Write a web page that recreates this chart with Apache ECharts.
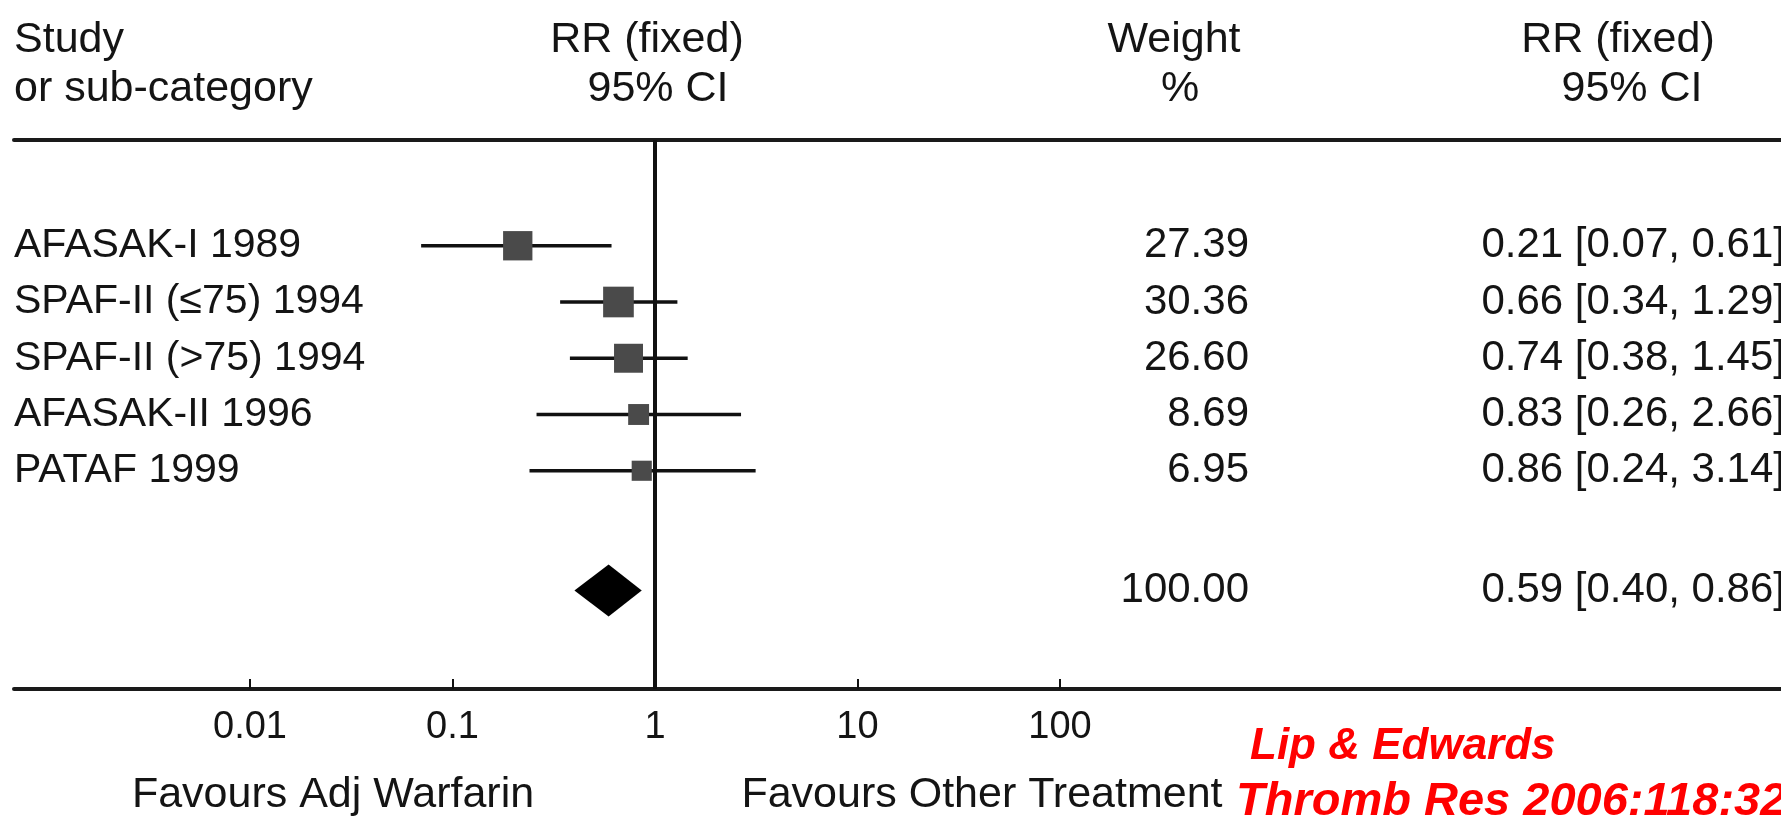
<!DOCTYPE html>
<html>
<head>
<meta charset="utf-8">
<title>RR (fixed) forest plot</title>
<script src="https://cdn.jsdelivr.net/npm/echarts@6/dist/echarts.min.js"></script>
<style>
  html, body { margin: 0; padding: 0; background: #fff; }
  #chart { width: 1781px; height: 823px; }
</style>
</head>
<body>
<div id="chart"></div>
<script>
// 研究名称
var studies = ['AFASAK-I 1989', 'SPAF-II (≤75) 1994', 'SPAF-II (>75) 1994', 'AFASAK-II 1996', 'PATAF 1999'];
// RR 及 95% CI
var rr = [0.21, 0.66, 0.74, 0.83, 0.86];
var ciLow = [0.07, 0.34, 0.38, 0.26, 0.24];
var ciHigh = [0.61, 1.29, 1.45, 2.66, 3.14];
// 权重 %
var weights = [27.39, 30.36, 26.60, 8.69, 6.95];
// 合计
var pooledRR = 0.59;
var pooledLow = 0.40;
var pooledHigh = 0.86;
var pooledWeight = 100.00;
// 刻度
var tickValues = [0.01, 0.1, 1, 10, 100];

// 布局（像素与行号）
var FONT = 'Liberation Sans';
var TEXT = '#141414';
var ROW_MIN = -1.88, ROW_MAX = 7.88, POOLED_ROW = 6.13;
var FRAME_MAX = 1767;
var COL_WEIGHT = 1235, COL_CI = FRAME_MAX;

function fmt2(v) { return v.toFixed(2); }
function ciText(r, l, h) { return fmt2(r) + ' [' + fmt2(l) + ', ' + fmt2(h) + ']'; }

var chart = echarts.init(document.getElementById('chart'), null, { renderer: 'canvas' });

var studyData = rr.map(function (v, i) { return [v, i, ciLow[i], ciHigh[i], weights[i]]; });
var nameData = studies.map(function (s, i) { return { value: [0, i], label: { formatter: s } }; });
var weightData = weights.map(function (w, i) { return { value: [COL_WEIGHT, i], label: { formatter: fmt2(w) } }; });
weightData.push({ value: [COL_WEIGHT, POOLED_ROW], label: { formatter: fmt2(pooledWeight) } });
var ciData = rr.map(function (v, i) { return { value: [COL_CI, i], label: { formatter: ciText(v, ciLow[i], ciHigh[i]) } }; });
ciData.push({ value: [COL_CI, POOLED_ROW], label: { formatter: ciText(pooledRR, pooledLow, pooledHigh) } });

// 表头和底部文字
function headText(text, x, y, size) {
  return {
    type: 'text', x: x, y: y,
    style: { text: text, fontFamily: FONT, fontSize: size || 43, fill: TEXT, align: 'center', verticalAlign: 'middle' }
  };
}
function redText(text, x, y, size) {
  return {
    type: 'text', x: x, y: y,
    style: { text: text, fontFamily: FONT, fontSize: size, fontWeight: 'bold', fontStyle: 'italic', fill: '#ff0000', verticalAlign: 'middle' }
  };
}

var option = {
  animation: false,
  grid: [
    // 森林图区域 0.01 ~ 100
    { left: 250, right: 721, top: 140, bottom: 134 },
    // 整个表格框
    { left: 14, right: 0, top: 140, bottom: 134 }
  ],
  xAxis: [
    {
      type: 'log', logBase: 10, gridIndex: 0, min: 0.01, max: 100,
      axisLine: { show: false, onZero: false },
      axisTick: { show: true, inside: true, length: 10, lineStyle: { color: '#111', width: 2 } },
      axisLabel: {
        show: true, margin: 20, fontFamily: FONT, fontSize: 38, color: TEXT,
        formatter: function (v) { return tickValues.indexOf(+v.toPrecision(3)) >= 0 ? String(+v.toPrecision(3)) : ''; }
      },
      splitLine: { show: false }
    },
    {
      type: 'value', gridIndex: 1, min: 0, max: FRAME_MAX, position: 'bottom',
      axisLine: { show: true, onZero: false, lineStyle: { color: '#1a1a1a', width: 4 } },
      axisTick: { show: false }, axisLabel: { show: false }, splitLine: { show: false }
    },
    {
      type: 'value', gridIndex: 1, min: 0, max: FRAME_MAX, position: 'top',
      axisLine: { show: true, onZero: false, lineStyle: { color: '#1a1a1a', width: 4 } },
      axisTick: { show: false }, axisLabel: { show: false }, splitLine: { show: false }
    }
  ],
  yAxis: [
    { type: 'value', gridIndex: 0, min: ROW_MIN, max: ROW_MAX, inverse: true, show: false },
    { type: 'value', gridIndex: 1, min: ROW_MIN, max: ROW_MAX, inverse: true, show: false }
  ],
  graphic: [
    { type: 'text', x: 14, y: 40, style: { text: 'Study', fontFamily: FONT, fontSize: 43, fill: TEXT, verticalAlign: 'middle' } },
    { type: 'text', x: 14, y: 89, style: { text: 'or sub-category', fontFamily: FONT, fontSize: 43, fill: TEXT, verticalAlign: 'middle' } },
    headText('RR (fixed)', 647, 40),
    headText('95% CI', 658, 89),
    headText('Weight', 1174, 40),
    headText('%', 1180, 89),
    headText('RR (fixed)', 1618, 40),
    headText('95% CI', 1632, 89),
    headText('Favours Adj Warfarin', 333, 795),
    headText('Favours Other Treatment', 982, 795),
    redText('Lip & Edwards', 1250, 747, 44),
    redText('Thromb Res 2006:118:321', 1236, 802, 47)
  ],
  series: [
    {
      // 各研究：置信区间 + 方块
      type: 'custom', xAxisIndex: 0, yAxisIndex: 0,
      encode: { x: [0, 2, 3], y: 1 },
      data: studyData,
      renderItem: function (params, api) {
        var c = api.coord([api.value(0), api.value(1)]);
        var l = api.coord([api.value(2), api.value(1)]);
        var h = api.coord([api.value(3), api.value(1)]);
        var s = 17 + 0.45 * api.value(4);
        return {
          type: 'group',
          children: [
            { type: 'line', shape: { x1: l[0], y1: l[1], x2: h[0], y2: h[1] }, style: { stroke: '#111', lineWidth: 3.5 } },
            { type: 'rect', shape: { x: c[0] - s / 2, y: c[1] - s / 2, width: s, height: s }, style: { fill: '#4a4a4a' } }
          ]
        };
      },
      markLine: {
        silent: true, symbol: 'none', label: { show: false },
        lineStyle: { color: '#111', width: 4, type: 'solid' },
        data: [{ xAxis: 1 }]
      },
      z: 3
    },
    {
      // 合计菱形
      type: 'custom', xAxisIndex: 0, yAxisIndex: 0,
      encode: { x: [0, 2, 3], y: 1 },
      data: [[pooledRR, POOLED_ROW, pooledLow, pooledHigh]],
      renderItem: function (params, api) {
        var c = api.coord([api.value(0), api.value(1)]);
        var l = api.coord([api.value(2), api.value(1)]);
        var h = api.coord([api.value(3), api.value(1)]);
        var hh = 26;
        return {
          type: 'polygon',
          shape: { points: [[l[0], l[1]], [c[0], c[1] - hh], [h[0], h[1]], [c[0], c[1] + hh]] },
          style: { fill: '#000' }
        };
      },
      z: 3
    },
    {
      type: 'scatter', xAxisIndex: 1, yAxisIndex: 1, symbolSize: 0, silent: true,
      itemStyle: { opacity: 1 },
      label: { show: true, position: 'right', distance: 0, fontFamily: FONT, fontSize: 41, color: TEXT },
      data: nameData
    },
    {
      type: 'scatter', xAxisIndex: 1, yAxisIndex: 1, symbolSize: 0, silent: true,
      itemStyle: { opacity: 1 },
      label: { show: true, position: 'left', distance: 0, fontFamily: FONT, fontSize: 42, color: TEXT },
      data: weightData
    },
    {
      type: 'scatter', xAxisIndex: 1, yAxisIndex: 1, symbolSize: 0, silent: true,
      itemStyle: { opacity: 1 },
      label: { show: true, position: 'left', distance: 0, offset: [4, 0], fontFamily: FONT, fontSize: 42, color: TEXT },
      data: ciData
    }
  ]
};

chart.setOption(option);
</script>
</body>
</html>
